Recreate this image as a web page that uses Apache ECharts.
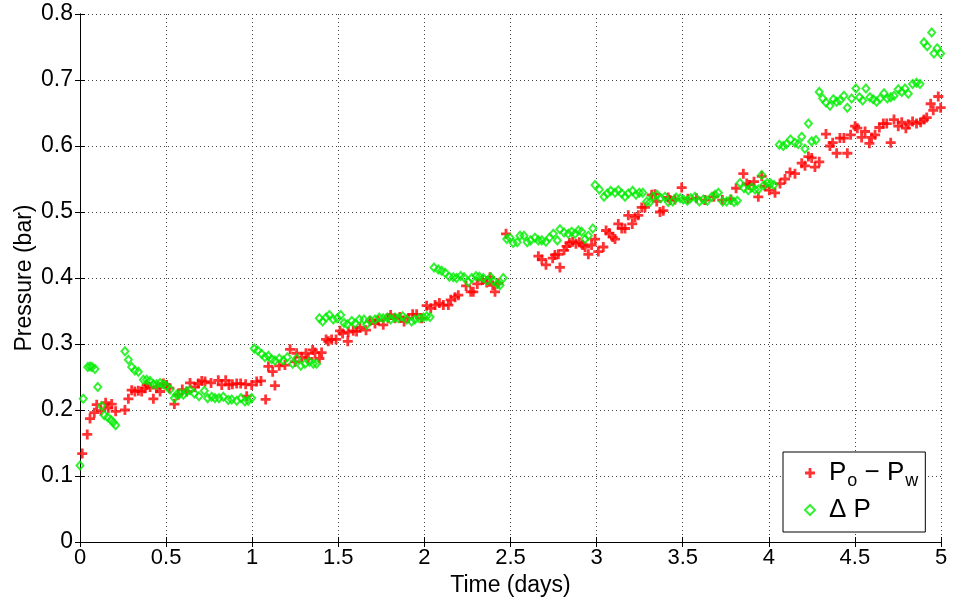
<!DOCTYPE html>
<html>
<head>
<meta charset="utf-8">
<script src="https://cdn.jsdelivr.net/npm/echarts@6/dist/echarts.min.js"></script>
<style>
  html, body { margin: 0; padding: 0; background: #fff; }
  #chart { width: 955px; height: 605px; }
</style>
</head>
<body>
<div id="chart"></div>
<script>
// Oil minus water pressure, Po - Pw (bar) against time (days)
const timePo = [
  0.013,0.042,0.058,0.083,0.097,0.122,0.149,0.164,0.184,0.207,0.261,0.281,0.300,0.319,0.339,0.358,0.377,0.387,0.407,0.426,
  0.445,0.465,0.484,0.503,0.519,0.548,0.571,0.594,0.620,0.639,0.668,0.687,0.707,0.726,0.761,0.803,0.823,0.846,0.865,0.885,
  0.910,0.933,0.962,0.968,0.997,1.026,1.051,1.078,1.094,1.119,1.132,1.157,1.190,1.220,1.249,1.258,1.287,1.312,1.326,1.351,
  1.365,1.390,1.403,1.429,1.442,1.461,1.487,1.510,1.525,1.555,1.558,1.587,1.606,1.626,1.661,1.684,1.713,1.732,1.761,1.790,
  1.804,1.829,1.858,1.882,1.907,1.932,1.955,1.984,2.013,2.037,2.062,2.087,2.110,2.139,2.153,2.178,2.197,2.242,2.269,2.284,
  2.307,2.338,2.362,2.381,2.397,2.410,2.429,2.474,2.662,2.682,2.706,2.745,2.758,2.778,2.787,2.811,2.826,
  2.842,2.861,2.880,2.900,2.919,2.933,2.952,2.971,2.991,3.010,3.039,3.055,3.074,3.093,3.107,3.126,3.146,3.165,3.184,3.207,
  3.223,3.242,3.262,3.281,3.320,3.339,3.349,3.368,3.387,3.416,3.426,3.455,3.494,3.530,3.580,3.630,3.680,3.730,3.780,3.810,
  3.852,3.872,3.887,3.914,3.939,3.959,3.978,4.003,4.036,4.065,4.094,4.123,4.152,4.191,4.210,4.230,4.249,4.268,4.293,4.332,
  4.355,4.371,4.394,4.413,4.436,4.456,4.475,4.501,4.514,4.539,4.559,4.584,4.597,4.617,4.642,4.665,4.685,4.708,4.727,4.752,
  4.772,4.796,4.810,4.835,4.858,4.882,4.901,4.917,4.940,4.955,4.984,4.998
];
const pressurePo = [
  0.134,0.163,0.187,0.196,0.208,0.199,0.211,0.203,0.209,0.198,0.200,0.217,0.230,0.228,0.229,0.228,0.233,0.238,0.235,0.217,
  0.233,0.228,0.240,0.238,0.233,0.209,0.223,0.231,0.228,0.241,0.235,0.240,0.244,0.243,0.241,0.245,0.238,0.245,0.238,0.239,
  0.240,0.240,0.239,0.221,0.238,0.243,0.244,0.216,0.266,0.258,0.237,0.267,0.268,0.292,0.273,0.286,0.280,0.286,0.278,0.291,
  0.287,0.278,0.287,0.307,0.304,0.307,0.307,0.320,0.316,0.304,0.318,0.320,0.319,0.325,0.321,0.335,0.331,0.336,0.329,0.339,
  0.344,0.339,0.341,0.334,0.339,0.345,0.345,0.339,0.358,0.354,0.359,0.362,0.359,0.359,0.367,0.371,0.374,0.388,0.379,0.379,
  0.391,0.397,0.393,0.401,0.389,0.379,0.392,0.467,0.433,0.428,0.420,0.430,0.435,0.436,0.416,0.442,0.448,
  0.453,0.455,0.452,0.454,0.450,0.447,0.436,0.450,0.459,0.440,0.447,0.472,0.468,0.462,0.459,0.482,0.475,0.475,0.495,0.482,
  0.492,0.495,0.507,0.507,0.526,0.527,0.516,0.500,0.502,0.522,0.518,0.519,0.537,0.520,0.521,0.518,0.523,0.518,0.519,0.536,
  0.558,0.543,0.541,0.546,0.523,0.554,0.539,0.533,0.529,0.543,0.550,0.560,0.558,0.574,0.570,0.584,0.582,0.568,0.576,0.618,
  0.600,0.605,0.589,0.612,0.612,0.589,0.617,0.630,0.627,0.613,0.622,0.604,0.613,0.617,0.628,0.634,0.634,0.605,0.640,0.630,
  0.636,0.627,0.633,0.637,0.634,0.636,0.640,0.643,0.664,0.654,0.675,0.658
];

// Measured differential pressure, delta P (bar) against time (days)
const timeDp = [
  0.000,0.019,0.045,0.058,0.070,0.087,0.103,0.126,0.141,0.161,0.180,0.193,0.207,0.261,0.281,0.300,0.319,0.339,0.368,0.387,
  0.407,0.426,0.445,0.465,0.484,0.503,0.523,0.548,0.561,0.581,0.600,0.620,0.639,0.664,0.691,0.722,0.741,0.765,0.784,0.807,
  0.832,0.861,0.881,0.910,0.935,0.958,0.977,0.997,1.012,1.032,1.055,1.074,1.094,1.113,1.132,1.157,1.181,1.204,1.235,1.258,
  1.282,1.307,1.332,1.355,1.374,1.390,1.409,1.429,1.448,1.471,1.494,1.514,1.533,1.552,1.578,1.597,1.622,1.649,1.665,1.684,
  1.713,1.738,1.761,1.785,1.804,1.829,1.848,1.874,1.897,1.926,1.945,1.970,1.994,2.013,2.033,2.056,2.081,2.100,2.120,2.145,
  2.168,2.187,2.211,2.230,2.255,2.275,2.300,2.319,2.342,2.365,2.385,2.400,2.423,2.439,2.458,2.478,2.497,2.516,2.539,2.555,
  2.578,2.597,2.617,2.642,2.662,2.682,2.706,2.726,2.749,2.772,2.787,2.811,2.836,2.855,2.875,2.894,2.913,2.933,2.952,2.978,
  2.991,3.016,3.043,3.062,3.082,3.107,3.126,3.146,3.165,3.184,3.209,3.229,3.248,3.268,3.291,3.310,3.326,3.352,3.372,3.397,
  3.416,3.442,3.462,3.485,3.504,3.527,3.546,3.571,3.597,3.620,3.643,3.669,3.688,3.707,3.732,3.755,3.778,3.798,3.817,3.833,
  3.856,3.881,3.900,3.920,3.939,3.959,3.972,3.991,4.011,4.030,4.061,4.084,4.103,4.126,4.152,4.171,4.191,4.210,4.230,4.249,
  4.274,4.293,4.313,4.332,4.355,4.375,4.394,4.413,4.436,4.456,4.481,4.506,4.526,4.545,4.564,4.587,4.606,4.626,4.646,4.669,
  4.688,4.708,4.727,4.752,4.772,4.791,4.810,4.835,4.858,4.878,4.901,4.920,4.946,4.959,4.978,4.998
];
const pressureDp = [
  0.116,0.217,0.265,0.266,0.265,0.262,0.235,0.206,0.192,0.189,0.185,0.181,0.177,0.289,0.276,0.265,0.260,0.258,0.246,0.246,
  0.244,0.239,0.239,0.241,0.239,0.236,0.231,0.218,0.223,0.225,0.223,0.228,0.230,0.225,0.221,0.229,0.218,0.220,0.218,0.218,
  0.220,0.215,0.216,0.214,0.218,0.213,0.214,0.218,0.293,0.290,0.285,0.280,0.282,0.277,0.275,0.278,0.275,0.280,0.270,0.278,
  0.267,0.270,0.273,0.270,0.270,0.339,0.334,0.340,0.344,0.337,0.339,0.344,0.332,0.330,0.335,0.331,0.337,0.337,0.329,0.336,
  0.337,0.340,0.339,0.340,0.337,0.340,0.339,0.342,0.337,0.334,0.337,0.339,0.340,0.342,0.341,0.416,0.413,0.411,0.408,0.402,
  0.401,0.400,0.403,0.401,0.394,0.400,0.403,0.402,0.400,0.396,0.401,0.396,0.391,0.389,0.400,0.459,0.461,0.453,0.454,0.464,
  0.464,0.454,0.457,0.461,0.457,0.457,0.455,0.461,0.467,0.457,0.474,0.469,0.467,0.470,0.467,0.472,0.470,0.459,0.464,0.475,
  0.541,0.534,0.523,0.528,0.532,0.529,0.533,0.528,0.523,0.528,0.532,0.526,0.529,0.529,0.516,0.515,0.523,0.526,0.521,0.523,
  0.515,0.516,0.522,0.521,0.519,0.517,0.521,0.523,0.516,0.519,0.517,0.523,0.526,0.529,0.516,0.516,0.519,0.515,0.517,0.544,
  0.536,0.533,0.537,0.534,0.534,0.556,0.541,0.544,0.543,0.541,0.602,0.600,0.603,0.610,0.605,0.603,0.614,0.596,0.634,0.607,
  0.609,0.682,0.672,0.666,0.661,0.671,0.667,0.669,0.676,0.658,0.672,0.687,0.674,0.669,0.687,0.674,0.671,0.667,0.672,0.680,
  0.672,0.674,0.676,0.686,0.682,0.687,0.679,0.694,0.696,0.694,0.757,0.751,0.772,0.740,0.748,0.740
];

// Axis ticks
const xTicks = [0, 0.5, 1, 1.5, 2, 2.5, 3, 3.5, 4, 4.5, 5];
const yTicks = [0, 0.1, 0.2, 0.3, 0.4, 0.5, 0.6, 0.7, 0.8];

const zip = (xs, ys) => xs.map((x, i) => [x, ys[i]]);

const plusPath = 'path://M3.6,0H6.4V3.6H10V6.4H6.4V10H3.6V6.4H0V3.6H3.6Z';
const font = '"Liberation Sans", Arial, Helvetica, sans-serif';

const gridLine = { show: true, lineStyle: { color: '#444', type: [1, 3], width: 1 } };
const axisLine = { show: true, lineStyle: { color: '#000', width: 1 } };
const tickIn = { show: true, inside: true, length: 5, lineStyle: { color: '#000' } };

const chart = echarts.init(document.getElementById('chart'), null, { renderer: 'canvas' });
chart.setOption({
  animation: false,
  backgroundColor: '#fff',
  grid: { left: 80, right: 14, top: 14, bottom: 63, containLabel: false },
  xAxis: [
    {
      type: 'value', min: xTicks[0], max: xTicks[xTicks.length - 1], interval: 0.5,
      axisLine: axisLine, axisTick: tickIn, splitLine: gridLine,
      axisLabel: { color: '#000', fontSize: 22, fontFamily: font, margin: 5 },
      name: 'Time (days)', nameLocation: 'middle', nameGap: 32,
      nameTextStyle: { color: '#000', fontSize: 23, fontFamily: font }
    },
    {
      type: 'value', position: 'top', min: xTicks[0], max: xTicks[xTicks.length - 1], interval: 0.5,
      axisLine: axisLine, axisTick: tickIn, splitLine: { show: false }, axisLabel: { show: false }
    }
  ],
  yAxis: [
    {
      type: 'value', min: yTicks[0], max: yTicks[yTicks.length - 1], interval: 0.1,
      axisLine: axisLine, axisTick: tickIn, splitLine: gridLine,
      axisLabel: { color: '#000', fontSize: 23, fontFamily: font, margin: 7,
        formatter: v => (Math.round(v * 10) / 10).toString() },
      name: 'Pressure (bar)', nameLocation: 'middle', nameGap: 44, nameMoveOverlap: false,
      nameTextStyle: { color: '#000', fontSize: 23, fontFamily: font }
    },
    {
      type: 'value', position: 'right', min: yTicks[0], max: yTicks[yTicks.length - 1], interval: 0.1,
      axisLine: axisLine, axisTick: tickIn, splitLine: { show: false }, axisLabel: { show: false }
    }
  ],
  legend: {
    orient: 'vertical', left: 783, top: 452,
    padding: [8, 7, 9, 21], itemGap: 7,
    itemWidth: 10, itemHeight: 10,
    backgroundColor: '#fff', borderColor: '#000', borderWidth: 1,
    textStyle: {
      color: '#000', fontFamily: font, fontSize: 26,
      rich: {
        n: { fontSize: 26, fontFamily: font, color: '#000' },
        f: { fontSize: 26, fontFamily: font, color: '#000', padding: [0, 0, 0, 9] },
        s: { fontSize: 18, fontFamily: font, color: '#000', padding: [16, 0, 0, 1] }
      }
    },
    formatter: name => name === 'Po - Pw' ? '{f|P}{s|o}{n| \u2212 P}{s|w}' : '{f|\u0394 P}',
    data: [
      { name: 'Po - Pw', icon: plusPath },
      { name: 'dP', icon: 'diamond' }
    ]
  },
  series: [
    {
      name: 'Po - Pw', type: 'scatter', data: zip(timePo, pressurePo),
      symbol: plusPath, symbolSize: 10,
      itemStyle: { color: '#ff0000' }, z: 2
    },
    {
      name: 'dP', type: 'scatter', data: zip(timeDp, pressureDp),
      symbol: 'diamond', symbolSize: [7, 8],
      itemStyle: { color: 'rgba(0,0,0,0)', borderColor: '#00ee00', borderWidth: 2 }, z: 3
    }
  ]
});
</script>
</body>
</html>
